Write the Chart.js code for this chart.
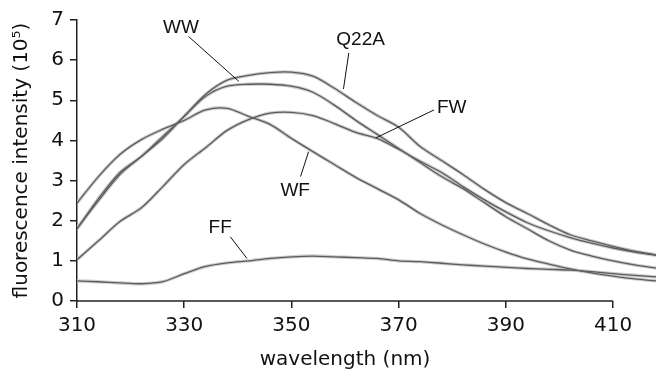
<!DOCTYPE html>
<html>
<head>
<meta charset="utf-8">
<script src="https://cdn.jsdelivr.net/npm/chart.js@4.4.0/dist/chart.umd.min.js"></script>
<style>
  html, body { margin: 0; padding: 0; background: #fff; }
</style>
</head>
<body>
<canvas id="spectra" width="656" height="378"></canvas>
<script>
// wavelength (nm) and intensities (x10^5)
var wavelength = [310, 314, 318, 322, 326, 330, 334, 338, 342, 346, 350, 354, 358, 362,
                  366, 370, 374, 378, 382, 386, 390, 394, 398, 402, 406, 410, 414, 418];
var q22a = [1.80, 2.50, 3.15, 3.60, 4.05, 4.60, 5.15, 5.50, 5.62, 5.69, 5.70, 5.60, 5.30, 4.95,
            4.62, 4.33, 3.85, 3.50, 3.15, 2.78, 2.45, 2.18, 1.90, 1.65, 1.50, 1.36, 1.24, 1.15];
var ww   = [1.80, 2.55, 3.20, 3.60, 4.10, 4.60, 5.10, 5.35, 5.40, 5.40, 5.35, 5.20, 4.88, 4.50,
            4.15, 3.80, 3.45, 3.10, 2.80, 2.45, 2.10, 1.80, 1.50, 1.27, 1.12, 1.00, 0.90, 0.82];
var fw   = [1.03, 1.50, 1.98, 2.32, 2.85, 3.40, 3.82, 4.25, 4.52, 4.68, 4.70, 4.62, 4.42, 4.20,
            4.05, 3.78, 3.48, 3.20, 2.85, 2.52, 2.22, 1.95, 1.75, 1.58, 1.44, 1.32, 1.22, 1.14];
var wf   = [2.44, 3.10, 3.65, 4.02, 4.28, 4.50, 4.76, 4.80, 4.60, 4.40, 4.05, 3.72, 3.40, 3.08,
            2.80, 2.52, 2.18, 1.90, 1.65, 1.42, 1.22, 1.05, 0.92, 0.80, 0.70, 0.62, 0.55, 0.50];
var ff   = [0.50, 0.48, 0.45, 0.43, 0.48, 0.68, 0.86, 0.95, 1.00, 1.06, 1.10, 1.12, 1.10, 1.08,
            1.06, 1.00, 0.98, 0.94, 0.90, 0.87, 0.84, 0.81, 0.79, 0.77, 0.73, 0.68, 0.64, 0.60];
var xTicks = [310, 330, 350, 370, 390, 410];
var yTicks = [0, 1, 2, 3, 4, 5, 6, 7];
var seriesNames = ['Q22A', 'WW', 'FW', 'WF', 'FF'];
var seriesValues = [q22a, ww, fw, wf, ff];

// curve labels with leader lines, in data coordinates
var notes = [
  { text: 'WW',   at: [329.4, 6.81], from: [330.8, 6.59], to: [340.2, 5.47] },
  { text: 'Q22A', at: [362.9, 6.51], from: [360.7, 6.18], to: [359.7, 5.28] },
  { text: 'FW',   at: [379.9, 4.81], from: [376.6, 4.76], to: [365.7, 4.06] },
  { text: 'WF',   at: [350.7, 2.74], from: [353.2, 3.72], to: [351.7, 3.10] },
  { text: 'FF',   at: [336.7, 1.82], from: [338.6, 1.60], to: [341.7, 1.06] }
];

var datasets = [];
seriesValues.forEach(function (vals, k) {
  var pts = wavelength.map(function (w, i) { return { x: w, y: vals[i] }; });
  datasets.push({ label: seriesNames[k] + ' halo', data: pts, borderColor: '#cdcdcd',
                  borderWidth: 3.4, pointRadius: 0, tension: 0.3, order: 2 });
  datasets.push({ label: seriesNames[k], data: pts, borderColor: '#5c5c5c',
                  borderWidth: 1.3, pointRadius: 0, tension: 0.3, order: 1 });
});

var tickFont = { family: '"DejaVu Sans", Verdana, sans-serif', size: 20 };

var extras = {
  id: 'extras',
  afterDatasetsDraw: function (chart) {
    var ctx = chart.ctx, xs = chart.scales.x, ys = chart.scales.y;
    var x0 = xs.getPixelForValue(xTicks[0]), x1 = xs.getPixelForValue(xTicks[xTicks.length - 1]);
    ctx.save();
    // x axis line only runs to the last tick
    ctx.strokeStyle = '#222';
    ctx.lineWidth = 1.5;
    ctx.beginPath();
    ctx.moveTo(x0 - 0.75, chart.chartArea.bottom);
    ctx.lineTo(x1, chart.chartArea.bottom);
    ctx.stroke();
    // x title centred under the ticked part of the axis
    ctx.fillStyle = '#111';
    ctx.font = '20px "DejaVu Sans", Verdana, sans-serif';
    ctx.textAlign = 'center';
    ctx.textBaseline = 'middle';
    ctx.fillText('wavelength (nm)', (x0 + x1) / 2, 360);
    // curve labels
    ctx.lineWidth = 1;
    ctx.strokeStyle = '#111';
    ctx.font = '19px "Liberation Sans", Arial, sans-serif';
    notes.forEach(function (n) {
      ctx.beginPath();
      ctx.moveTo(xs.getPixelForValue(n.from[0]), ys.getPixelForValue(n.from[1]));
      ctx.lineTo(xs.getPixelForValue(n.to[0]), ys.getPixelForValue(n.to[1]));
      ctx.stroke();
      ctx.fillText(n.text, xs.getPixelForValue(n.at[0]), ys.getPixelForValue(n.at[1]));
    });
    ctx.restore();
  }
};

new Chart(document.getElementById('spectra'), {
  type: 'line',
  data: { datasets: datasets },
  plugins: [extras],
  options: {
    responsive: false,
    animation: false,
    layout: { padding: { top: 20, right: 0, left: 0, bottom: 0 } },
    plugins: { legend: { display: false }, tooltip: { enabled: false } },
    scales: {
      x: {
        type: 'linear', min: 310, max: 418,
        afterBuildTicks: function (s) { s.ticks = xTicks.map(function (v) { return { value: v }; }); },
        afterFit: function (s) { s.height = 77; },
        ticks: { font: tickFont, color: '#111', padding: 6, maxRotation: 0, autoSkip: false },
        grid: { drawOnChartArea: false, drawTicks: true, tickLength: 7, color: '#222', lineWidth: 1.5 },
        border: { display: false }
      },
      y: {
        min: 0, max: 7,
        afterBuildTicks: function (s) { s.ticks = yTicks.map(function (v) { return { value: v }; }); },
        afterFit: function (s) { s.width = 77; },
        ticks: { font: tickFont, color: '#111', padding: 6 },
        grid: { drawOnChartArea: false, drawTicks: true, tickLength: 7, color: '#222', lineWidth: 1.5 },
        border: { display: true, color: '#222', width: 1.5 },
        title: { display: true, text: 'fluorescence intensity (10\u2075)', font: tickFont, color: '#111',
                 padding: { top: 10, bottom: 0 } }
      }
    }
  }
});
</script>
</body>
</html>
